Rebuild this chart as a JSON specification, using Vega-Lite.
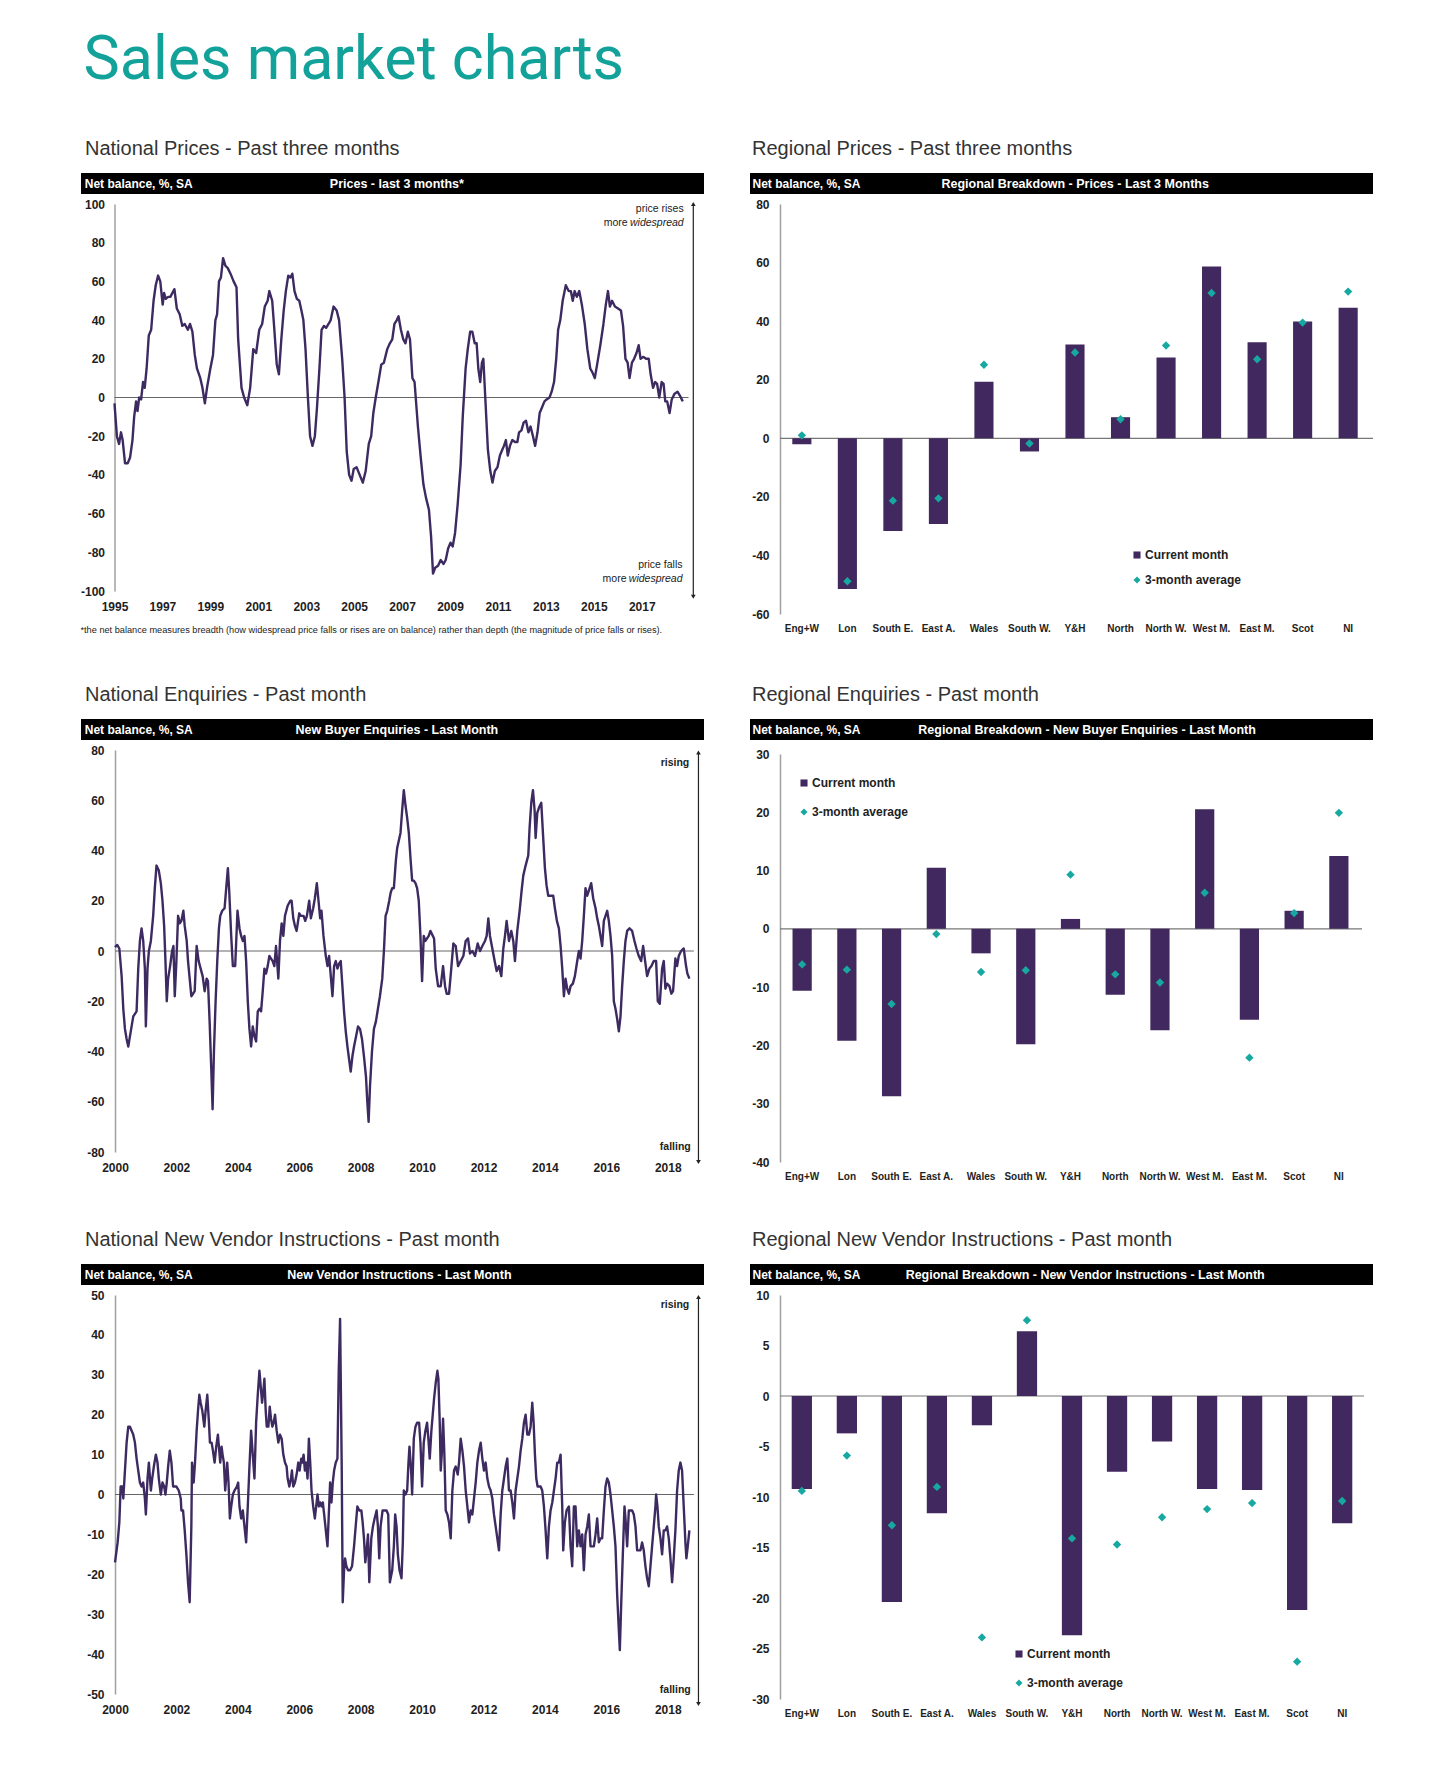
{
"$schema": "https://vega.github.io/schema/vega-lite/v6.json",
"background": "white",
"padding": {"left": 80, "top": 30, "right": 20, "bottom": 20},
"title": {"text": "Sales market charts", "anchor": "start", "font": "Roboto", "fontSize": 61, "fontWeight": "normal", "color": "#13a29a", "dx": 3, "offset": 47},
"config": {
 "view": {"stroke": null},
 "font": "Liberation Sans, Arial, sans-serif",
 "axis": {"labelFont": "Liberation Sans, Arial, sans-serif", "labelFontSize": 12, "labelFontWeight": "bold", "labelColor": "#1e1e1e", "grid": false, "ticks": false, "title": null, "domainColor": "#a0a0a0", "domainWidth": 1.5, "labelBound": false},
 "axisX": {"domain": false, "labelAngle": 0, "labelPadding": 10, "labelFlush": false},
 "axisY": {"labelPadding": 10},
 "text": {"font": "Liberation Sans, Arial, sans-serif"},
 "point": {"opacity": 1},
 "title": {"font": "Liberation Sans", "fontSize": 20, "fontWeight": "normal", "color": "#333333", "anchor": "start", "offset": 14, "dx": 4},
 "legend": {"labelFont": "Liberation Sans, Arial, sans-serif", "labelFontSize": 12, "labelFontWeight": "bold", "labelColor": "#222", "symbolSize": 50, "labelOffset": 2, "symbolStrokeWidth": 0}
},
"resolve": {"scale": {"color": "independent", "shape": "independent"}},
"spacing": 49,
"vconcat": [
{"resolve": {"scale": {"color": "independent", "shape": "independent"}},
 "hconcat": [
 {"vconcat": [
  {"width": 623, "height": 21, "view": {"fill": "#000000", "stroke": null},
   "title": {"text": "National Prices - Past three months"},
   "data": {"values": [{"left": "Net balance, %, SA", "center": "Prices - last 3 months*"}]},
   "layer": [
    {"mark": {"type": "text", "align": "left", "baseline": "middle", "color": "#ffffff", "fontSize": 12, "fontWeight": "bold"},
     "encoding": {"x": {"datum": 0.006, "type": "quantitative", "scale": {"domain": [0, 1]}, "axis": null}, "y": {"datum": 0.5, "type": "quantitative", "scale": {"domain": [0, 1]}, "axis": null}, "text": {"field": "left"}}},
    {"mark": {"type": "text", "align": "center", "baseline": "middle", "color": "#ffffff", "fontSize": 12.5, "fontWeight": "bold"},
     "encoding": {"x": {"datum": 0.507, "type": "quantitative"}, "y": {"datum": 0.5, "type": "quantitative"}, "text": {"field": "center"}}}
   ]},
  {"width": 623, "height": 387,
   "title": {"text": "*the net balance measures breadth (how widespread price falls or rises are on balance)  rather than depth (the magnitude of price falls or rises).", "orient": "bottom", "anchor": "start", "font": "Liberation Sans, Arial, sans-serif", "fontSize": 9.2, "color": "#222", "offset": 14, "dx": 0},
   "layer": [
    {"data": {"values": [{}]}, "mark": {"type": "rule", "color": "#666666", "strokeWidth": 1},
     "encoding": {"x": {"datum": 1995, "type": "quantitative"}, "x2": {"datum": 2018.95}, "y": {"datum": 0, "type": "quantitative"}}},
    {"data": {"values": [
{"t":1995.00,"v":-3},{"t":1995.10,"v":-20},{"t":1995.19,"v":-24},{"t":1995.27,"v":-18},{"t":1995.34,"v":-22},{"t":1995.44,"v":-34},{"t":1995.55,"v":-34},{"t":1995.65,"v":-31},{"t":1995.75,"v":-22},{"t":1995.82,"v":-10},{"t":1995.90,"v":-2},{"t":1995.96,"v":-7},{"t":1996.03,"v":0},{"t":1996.11,"v":-1},{"t":1996.19,"v":8},{"t":1996.26,"v":5},{"t":1996.34,"v":15},{"t":1996.43,"v":32},{"t":1996.53,"v":35},{"t":1996.63,"v":50},{"t":1996.72,"v":58},{"t":1996.82,"v":63},{"t":1996.91,"v":60},{"t":1997.01,"v":48},{"t":1997.07,"v":54},{"t":1997.14,"v":51},{"t":1997.24,"v":52},{"t":1997.33,"v":52},{"t":1997.50,"v":56},{"t":1997.60,"v":46},{"t":1997.72,"v":43},{"t":1997.83,"v":37},{"t":1997.93,"v":38},{"t":1998.06,"v":35},{"t":1998.15,"v":38},{"t":1998.25,"v":34},{"t":1998.35,"v":22},{"t":1998.44,"v":15},{"t":1998.58,"v":10},{"t":1998.67,"v":5},{"t":1998.77,"v":-3},{"t":1998.86,"v":5},{"t":1999.00,"v":15},{"t":1999.11,"v":22},{"t":1999.21,"v":40},{"t":1999.28,"v":43},{"t":1999.36,"v":60},{"t":1999.44,"v":62},{"t":1999.53,"v":72},{"t":1999.63,"v":68},{"t":1999.72,"v":67},{"t":1999.84,"v":64},{"t":1999.97,"v":60},{"t":2000.09,"v":57},{"t":2000.16,"v":30},{"t":2000.30,"v":5},{"t":2000.41,"v":0},{"t":2000.54,"v":-4},{"t":2000.66,"v":5},{"t":2000.79,"v":25},{"t":2000.91,"v":23},{"t":2001.04,"v":35},{"t":2001.16,"v":38},{"t":2001.27,"v":47},{"t":2001.39,"v":50},{"t":2001.46,"v":55},{"t":2001.58,"v":50},{"t":2001.67,"v":35},{"t":2001.77,"v":17},{"t":2001.86,"v":12},{"t":2001.96,"v":30},{"t":2002.06,"v":45},{"t":2002.15,"v":55},{"t":2002.25,"v":63},{"t":2002.34,"v":62},{"t":2002.42,"v":64},{"t":2002.51,"v":55},{"t":2002.61,"v":51},{"t":2002.71,"v":50},{"t":2002.80,"v":45},{"t":2002.88,"v":40},{"t":2002.97,"v":25},{"t":2003.07,"v":0},{"t":2003.16,"v":-20},{"t":2003.26,"v":-25},{"t":2003.36,"v":-20},{"t":2003.45,"v":-5},{"t":2003.55,"v":15},{"t":2003.64,"v":35},{"t":2003.74,"v":37},{"t":2003.83,"v":36},{"t":2003.93,"v":38},{"t":2004.02,"v":40},{"t":2004.14,"v":47},{"t":2004.27,"v":45},{"t":2004.37,"v":40},{"t":2004.50,"v":20},{"t":2004.60,"v":0},{"t":2004.69,"v":-28},{"t":2004.79,"v":-40},{"t":2004.89,"v":-43},{"t":2004.98,"v":-37},{"t":2005.10,"v":-36},{"t":2005.23,"v":-40},{"t":2005.36,"v":-44},{"t":2005.48,"v":-38},{"t":2005.61,"v":-24},{"t":2005.71,"v":-20},{"t":2005.80,"v":-8},{"t":2005.90,"v":0},{"t":2006.01,"v":8},{"t":2006.13,"v":17},{"t":2006.24,"v":18},{"t":2006.38,"v":25},{"t":2006.49,"v":28},{"t":2006.59,"v":30},{"t":2006.68,"v":38},{"t":2006.78,"v":40},{"t":2006.85,"v":42},{"t":2006.95,"v":35},{"t":2007.05,"v":30},{"t":2007.14,"v":28},{"t":2007.24,"v":34},{"t":2007.33,"v":30},{"t":2007.43,"v":10},{"t":2007.52,"v":8},{"t":2007.66,"v":-15},{"t":2007.77,"v":-30},{"t":2007.89,"v":-45},{"t":2008.00,"v":-52},{"t":2008.12,"v":-58},{"t":2008.21,"v":-72},{"t":2008.29,"v":-91},{"t":2008.38,"v":-88},{"t":2008.50,"v":-87},{"t":2008.61,"v":-84},{"t":2008.73,"v":-86},{"t":2008.82,"v":-84},{"t":2008.92,"v":-78},{"t":2009.02,"v":-75},{"t":2009.11,"v":-77},{"t":2009.21,"v":-70},{"t":2009.32,"v":-55},{"t":2009.44,"v":-35},{"t":2009.53,"v":-10},{"t":2009.65,"v":15},{"t":2009.74,"v":25},{"t":2009.84,"v":34},{"t":2009.93,"v":34},{"t":2010.03,"v":28},{"t":2010.11,"v":28},{"t":2010.18,"v":15},{"t":2010.26,"v":8},{"t":2010.33,"v":18},{"t":2010.39,"v":20},{"t":2010.47,"v":0},{"t":2010.58,"v":-27},{"t":2010.68,"v":-38},{"t":2010.77,"v":-44},{"t":2010.87,"v":-38},{"t":2010.98,"v":-36},{"t":2011.08,"v":-30},{"t":2011.18,"v":-27},{"t":2011.25,"v":-25},{"t":2011.33,"v":-22},{"t":2011.41,"v":-30},{"t":2011.50,"v":-25},{"t":2011.60,"v":-22},{"t":2011.71,"v":-23},{"t":2011.81,"v":-23},{"t":2011.88,"v":-18},{"t":2011.98,"v":-17},{"t":2012.07,"v":-13},{"t":2012.17,"v":-12},{"t":2012.27,"v":-18},{"t":2012.36,"v":-15},{"t":2012.46,"v":-20},{"t":2012.55,"v":-25},{"t":2012.65,"v":-18},{"t":2012.74,"v":-8},{"t":2012.84,"v":-5},{"t":2012.94,"v":-2},{"t":2013.03,"v":-1},{"t":2013.15,"v":0},{"t":2013.24,"v":3},{"t":2013.34,"v":8},{"t":2013.43,"v":20},{"t":2013.51,"v":35},{"t":2013.60,"v":40},{"t":2013.70,"v":50},{"t":2013.83,"v":58},{"t":2013.95,"v":55},{"t":2014.04,"v":55},{"t":2014.12,"v":50},{"t":2014.20,"v":55},{"t":2014.29,"v":52},{"t":2014.39,"v":55},{"t":2014.50,"v":48},{"t":2014.62,"v":38},{"t":2014.73,"v":25},{"t":2014.85,"v":15},{"t":2014.94,"v":13},{"t":2015.04,"v":10},{"t":2015.15,"v":18},{"t":2015.27,"v":27},{"t":2015.40,"v":38},{"t":2015.50,"v":48},{"t":2015.59,"v":55},{"t":2015.67,"v":47},{"t":2015.76,"v":50},{"t":2015.88,"v":47},{"t":2016.01,"v":46},{"t":2016.13,"v":45},{"t":2016.22,"v":37},{"t":2016.32,"v":20},{"t":2016.41,"v":18},{"t":2016.49,"v":10},{"t":2016.59,"v":18},{"t":2016.68,"v":20},{"t":2016.78,"v":23},{"t":2016.87,"v":27},{"t":2016.95,"v":20},{"t":2017.07,"v":21},{"t":2017.18,"v":20},{"t":2017.29,"v":20},{"t":2017.37,"v":12},{"t":2017.47,"v":5},{"t":2017.56,"v":8},{"t":2017.64,"v":7},{"t":2017.73,"v":0},{"t":2017.83,"v":8},{"t":2017.91,"v":7},{"t":2017.98,"v":-2},{"t":2018.06,"v":-2},{"t":2018.16,"v":-8},{"t":2018.25,"v":-1},{"t":2018.37,"v":2},{"t":2018.49,"v":3},{"t":2018.59,"v":1},{"t":2018.71,"v":-2}
     ]},
     "mark": {"type": "line", "color": "#3d2a61", "strokeWidth": 2.4, "strokeJoin": "round"},
     "encoding": {
      "x": {"field": "t", "type": "quantitative", "scale": {"domain": [1995, 2019.2], "range": [33.5, 613.5], "nice": false, "zero": false}, "axis": {"values": [1995, 1997, 1999, 2001, 2003, 2005, 2007, 2009, 2011, 2013, 2015, 2017], "format": "d", "labelOverlap": false, "tickCount": 30}},
      "y": {"field": "v", "type": "quantitative", "scale": {"domain": [-100, 100], "nice": false}, "axis": {"values": [-100, -80, -60, -40, -20, 0, 20, 40, 60, 80, 100], "tickCount": 30, "offset": -33.5, "labelPadding": 10, "labelOverlap": false, "labelExpr": "replace(datum.label, '−', '-')"}}
     }},
    {"data": {"values": [{}]}, "mark": {"type": "rule", "color": "#222222", "strokeWidth": 1.2},
     "encoding": {"x": {"datum": 2019.15, "type": "quantitative"}, "y": {"datum": 100, "type": "quantitative"}, "y2": {"datum": -103}}},
    {"data": {"values": [{}]}, "mark": {"type": "point", "shape": "triangle-up", "filled": true, "color": "#222222", "size": 22},
     "encoding": {"x": {"datum": 2019.15, "type": "quantitative"}, "y": {"datum": 100, "type": "quantitative"}}},
    {"data": {"values": [{}]}, "mark": {"type": "point", "shape": "triangle-down", "filled": true, "color": "#222222", "size": 22},
     "encoding": {"x": {"datum": 2019.15, "type": "quantitative"}, "y": {"datum": -103, "type": "quantitative"}}},
    {"data": {"values": [{}]}, "mark": {"type": "text", "align": "right", "baseline": "alphabetic", "fontSize": 10.5, "color": "#222222"},
     "encoding": {"x": {"datum": 2018.75, "type": "quantitative"}, "y": {"datum": 96, "type": "quantitative"}, "text": {"value": "price rises"}}},
    {"data": {"values": [{}]}, "mark": {"type": "text", "align": "right", "baseline": "alphabetic", "fontSize": 10.5, "fontStyle": "italic", "color": "#222222"},
     "encoding": {"x": {"datum": 2018.75, "type": "quantitative"}, "y": {"datum": 88.5, "type": "quantitative"}, "text": {"value": "widespread"}}},
    {"data": {"values": [{}]}, "mark": {"type": "text", "align": "right", "baseline": "alphabetic", "fontSize": 10.5, "color": "#222222", "dx": -56},
     "encoding": {"x": {"datum": 2018.75, "type": "quantitative"}, "y": {"datum": 88.5, "type": "quantitative"}, "text": {"value": "more"}}},
    {"data": {"values": [{}]}, "mark": {"type": "text", "align": "right", "baseline": "alphabetic", "fontSize": 10.5, "color": "#222222"},
     "encoding": {"x": {"datum": 2018.7, "type": "quantitative"}, "y": {"datum": -88, "type": "quantitative"}, "text": {"value": "price falls"}}},
    {"data": {"values": [{}]}, "mark": {"type": "text", "align": "right", "baseline": "alphabetic", "fontSize": 10.5, "fontStyle": "italic", "color": "#222222"},
     "encoding": {"x": {"datum": 2018.7, "type": "quantitative"}, "y": {"datum": -95.5, "type": "quantitative"}, "text": {"value": "widespread"}}},
    {"data": {"values": [{}]}, "mark": {"type": "text", "align": "right", "baseline": "alphabetic", "fontSize": 10.5, "color": "#222222", "dx": -56},
     "encoding": {"x": {"datum": 2018.7, "type": "quantitative"}, "y": {"datum": -95.5, "type": "quantitative"}, "text": {"value": "more"}}}
   ]}
 ], "spacing": 4},
 {"resolve": {"scale": {"color": "independent", "shape": "independent"}},
  "vconcat": [
  {"width": 623, "height": 21, "view": {"fill": "#000000", "stroke": null},
   "title": {"text": "Regional Prices - Past three months", "dx": 2},
   "data": {"values": [{"left": "Net balance, %, SA", "center": "Regional Breakdown - Prices - Last 3 Months"}]},
   "layer": [
    {"mark": {"type": "text", "align": "left", "baseline": "middle", "color": "#ffffff", "fontSize": 12, "fontWeight": "bold"},
     "encoding": {"x": {"datum": 0.004, "type": "quantitative", "scale": {"domain": [0, 1]}, "axis": null}, "y": {"datum": 0.5, "type": "quantitative", "scale": {"domain": [0, 1]}, "axis": null}, "text": {"field": "left"}}},
    {"mark": {"type": "text", "align": "center", "baseline": "middle", "color": "#ffffff", "fontSize": 12.5, "fontWeight": "bold"},
     "encoding": {"x": {"datum": 0.522, "type": "quantitative"}, "y": {"datum": 0.5, "type": "quantitative"}, "text": {"field": "center"}}}
   ]},
  {"width": 623, "height": 410,
   "resolve": {"scale": {"x": "independent"}},
   "layer": [
    {"data": {"values": [{}]}, "mark": {"type": "rule", "color": "#777777", "strokeWidth": 1.2},
     "encoding": {"x": {"datum": 0, "type": "quantitative", "scale": {"domain": [0, 1], "range": [30, 623]}, "axis": null}, "x2": {"datum": 1}, "y": {"datum": 0, "type": "quantitative"}}},
    {"data": {"values": [
      {"region": "Eng+W", "Current month": -2, "3-month average": 1},
      {"region": "Lon", "Current month": -51.5, "3-month average": -48.8},
      {"region": "South E.", "Current month": -31.7, "3-month average": -21.3},
      {"region": "East A.", "Current month": -29.3, "3-month average": -20.5},
      {"region": "Wales", "Current month": 19.3, "3-month average": 25.1},
      {"region": "South W.", "Current month": -4.5, "3-month average": -1.8},
      {"region": "Y&H", "Current month": 32, "3-month average": 29.3},
      {"region": "North", "Current month": 7.2, "3-month average": 6.5},
      {"region": "North W.", "Current month": 27.6, "3-month average": 31.7},
      {"region": "West M.", "Current month": 58.7, "3-month average": 49.6},
      {"region": "East M.", "Current month": 32.8, "3-month average": 27},
      {"region": "Scot", "Current month": 39.9, "3-month average": 39.5},
      {"region": "NI", "Current month": 44.6, "3-month average": 50.1}
     ]},
     "transform": [{"fold": ["Current month", "3-month average"], "as": ["series", "value"]}],
     "layer": [
      {"transform": [{"filter": "datum.series === 'Current month'"}],
       "mark": {"type": "bar"},
       "encoding": {
        "x": {"field": "region", "type": "nominal", "sort": null, "scale": {"range": [30, 620], "paddingInner": 0.58, "paddingOuter": 0.27}, "axis": {"labelFontSize": 10, "labelPadding": 9, "labelOverlap": false}},
        "y": {"field": "value", "type": "quantitative", "scale": {"domain": [-60, 80], "nice": false}, "axis": {"values": [-60, -40, -20, 0, 20, 40, 60, 80], "tickCount": 30, "offset": -30, "labelPadding": 11, "labelOverlap": false, "labelExpr": "replace(datum.label, '−', '-')"}},
        "color": {"field": "series", "type": "nominal", "scale": {"domain": ["Current month", "3-month average"], "range": ["#41295f", "#17a9a1"]}, "legend": {"orient": "none", "legendX": 381, "legendY": 345, "title": null, "rowPadding": 13}}
       }},
      {"transform": [{"filter": "datum.series === '3-month average'"}],
       "mark": {"type": "point", "filled": true, "size": 70},
       "encoding": {
        "x": {"field": "region", "type": "nominal", "sort": null},
        "y": {"field": "value", "type": "quantitative"},
        "color": {"field": "series", "type": "nominal"},
        "shape": {"field": "series", "type": "nominal", "scale": {"domain": ["Current month", "3-month average"], "range": ["square", "diamond"]}, "legend": {"orient": "none", "legendX": 381, "legendY": 345, "title": null, "rowPadding": 13}}
       }}
     ]}
   ]}
 ], "spacing": 4}
], "spacing": 46},
{"resolve": {"scale": {"color": "independent", "shape": "independent"}},
 "hconcat": [
 {"vconcat": [
  {"width": 623, "height": 21, "view": {"fill": "#000000", "stroke": null},
   "title": {"text": "National Enquiries - Past month"},
   "data": {"values": [{"left": "Net balance, %, SA", "center": "New Buyer Enquiries - Last Month"}]},
   "layer": [
    {"mark": {"type": "text", "align": "left", "baseline": "middle", "color": "#ffffff", "fontSize": 12, "fontWeight": "bold"},
     "encoding": {"x": {"datum": 0.006, "type": "quantitative", "scale": {"domain": [0, 1]}, "axis": null}, "y": {"datum": 0.5, "type": "quantitative", "scale": {"domain": [0, 1]}, "axis": null}, "text": {"field": "left"}}},
    {"mark": {"type": "text", "align": "center", "baseline": "middle", "color": "#ffffff", "fontSize": 12.5, "fontWeight": "bold"},
     "encoding": {"x": {"datum": 0.507, "type": "quantitative"}, "y": {"datum": 0.5, "type": "quantitative"}, "text": {"field": "center"}}}
   ]},
  {"width": 623, "height": 402,
   "layer": [
    {"data": {"values": [{}]}, "mark": {"type": "rule", "color": "#666666", "strokeWidth": 1},
     "encoding": {"x": {"datum": 2000, "type": "quantitative"}, "x2": {"datum": 2018.85}, "y": {"datum": 0, "type": "quantitative"}}},
    {"data": {"values": [
{"t":2000.000,"v":1.5},{"t":2000.076,"v":2.4},{"t":2000.141,"v":1},{"t":2000.216,"v":-10},{"t":2000.270,"v":-23},{"t":2000.324,"v":-31},{"t":2000.378,"v":-35},{"t":2000.432,"v":-38},{"t":2000.486,"v":-34},{"t":2000.541,"v":-30},{"t":2000.595,"v":-26},{"t":2000.649,"v":-25},{"t":2000.703,"v":-24},{"t":2000.757,"v":-7},{"t":2000.811,"v":4},{"t":2000.865,"v":9},{"t":2000.919,"v":4},{"t":2000.973,"v":-7},{"t":2001.005,"v":-30},{"t":2001.059,"v":-7},{"t":2001.103,"v":0},{"t":2001.168,"v":4},{"t":2001.243,"v":14},{"t":2001.297,"v":25},{"t":2001.351,"v":34},{"t":2001.427,"v":32},{"t":2001.492,"v":27},{"t":2001.546,"v":20},{"t":2001.600,"v":10},{"t":2001.643,"v":-4},{"t":2001.686,"v":-20},{"t":2001.730,"v":-11},{"t":2001.795,"v":-6},{"t":2001.859,"v":0},{"t":2001.903,"v":2},{"t":2001.946,"v":-18},{"t":2002.000,"v":-4},{"t":2002.054,"v":14},{"t":2002.108,"v":11},{"t":2002.162,"v":12},{"t":2002.227,"v":16},{"t":2002.270,"v":10},{"t":2002.335,"v":4},{"t":2002.378,"v":-4},{"t":2002.432,"v":-11},{"t":2002.486,"v":-18},{"t":2002.541,"v":-17},{"t":2002.595,"v":-16},{"t":2002.659,"v":2},{"t":2002.724,"v":-4},{"t":2002.789,"v":-7},{"t":2002.854,"v":-10},{"t":2002.919,"v":-16},{"t":2002.984,"v":-11},{"t":2003.027,"v":-12},{"t":2003.081,"v":-28},{"t":2003.135,"v":-47},{"t":2003.178,"v":-63},{"t":2003.222,"v":-40},{"t":2003.276,"v":-20},{"t":2003.330,"v":-4},{"t":2003.384,"v":9},{"t":2003.427,"v":14},{"t":2003.492,"v":16},{"t":2003.568,"v":17},{"t":2003.622,"v":25},{"t":2003.676,"v":33},{"t":2003.719,"v":24},{"t":2003.784,"v":6},{"t":2003.838,"v":-6},{"t":2003.914,"v":-6},{"t":2003.989,"v":16},{"t":2004.054,"v":9},{"t":2004.108,"v":6},{"t":2004.162,"v":4},{"t":2004.216,"v":6},{"t":2004.270,"v":-4},{"t":2004.324,"v":-20},{"t":2004.378,"v":-31},{"t":2004.432,"v":-38},{"t":2004.486,"v":-30},{"t":2004.541,"v":-34},{"t":2004.595,"v":-36},{"t":2004.649,"v":-24},{"t":2004.703,"v":-23},{"t":2004.757,"v":-24},{"t":2004.811,"v":-16},{"t":2004.865,"v":-7},{"t":2004.919,"v":-9},{"t":2004.973,"v":-6},{"t":2005.027,"v":-2},{"t":2005.081,"v":-3},{"t":2005.135,"v":-4},{"t":2005.189,"v":-6},{"t":2005.243,"v":2},{"t":2005.319,"v":-11},{"t":2005.373,"v":4},{"t":2005.427,"v":11},{"t":2005.481,"v":6},{"t":2005.535,"v":14},{"t":2005.622,"v":18},{"t":2005.708,"v":20},{"t":2005.751,"v":20},{"t":2005.805,"v":13},{"t":2005.859,"v":10},{"t":2005.914,"v":8},{"t":2006.000,"v":15},{"t":2006.054,"v":14},{"t":2006.141,"v":14},{"t":2006.195,"v":12},{"t":2006.249,"v":14},{"t":2006.324,"v":20},{"t":2006.378,"v":13},{"t":2006.454,"v":17},{"t":2006.508,"v":21},{"t":2006.573,"v":27},{"t":2006.627,"v":20},{"t":2006.681,"v":13},{"t":2006.724,"v":16},{"t":2006.789,"v":6},{"t":2006.865,"v":-2},{"t":2006.919,"v":-6},{"t":2006.973,"v":-2},{"t":2007.027,"v":-10},{"t":2007.081,"v":-18},{"t":2007.135,"v":-6},{"t":2007.189,"v":-4},{"t":2007.243,"v":-7},{"t":2007.297,"v":-5},{"t":2007.351,"v":-4},{"t":2007.405,"v":-14},{"t":2007.459,"v":-24},{"t":2007.514,"v":-32},{"t":2007.568,"v":-38},{"t":2007.622,"v":-43},{"t":2007.676,"v":-48},{"t":2007.730,"v":-42},{"t":2007.784,"v":-38},{"t":2007.849,"v":-34},{"t":2007.914,"v":-30},{"t":2007.978,"v":-31},{"t":2008.043,"v":-35},{"t":2008.108,"v":-42},{"t":2008.173,"v":-50},{"t":2008.216,"v":-60},{"t":2008.259,"v":-68},{"t":2008.303,"v":-54},{"t":2008.368,"v":-40},{"t":2008.432,"v":-31},{"t":2008.497,"v":-28},{"t":2008.562,"v":-23},{"t":2008.627,"v":-18},{"t":2008.703,"v":-11},{"t":2008.757,"v":0},{"t":2008.811,"v":14},{"t":2008.865,"v":16},{"t":2008.930,"v":20},{"t":2008.973,"v":23},{"t":2009.027,"v":25},{"t":2009.081,"v":25},{"t":2009.146,"v":36},{"t":2009.189,"v":41},{"t":2009.243,"v":44},{"t":2009.297,"v":47},{"t":2009.351,"v":56},{"t":2009.405,"v":64},{"t":2009.459,"v":58},{"t":2009.514,"v":53},{"t":2009.568,"v":47},{"t":2009.622,"v":37},{"t":2009.676,"v":28},{"t":2009.730,"v":28},{"t":2009.784,"v":27},{"t":2009.838,"v":25},{"t":2009.892,"v":20},{"t":2009.946,"v":6},{"t":2010.000,"v":-12},{"t":2010.054,"v":6},{"t":2010.108,"v":4},{"t":2010.162,"v":5},{"t":2010.216,"v":6},{"t":2010.270,"v":8},{"t":2010.390,"v":5},{"t":2010.444,"v":-7},{"t":2010.520,"v":-14},{"t":2010.607,"v":-14},{"t":2010.683,"v":-6},{"t":2010.748,"v":-14},{"t":2010.802,"v":-17},{"t":2010.878,"v":-17},{"t":2010.943,"v":-8},{"t":2011.019,"v":3},{"t":2011.095,"v":2},{"t":2011.171,"v":-6},{"t":2011.257,"v":-4},{"t":2011.344,"v":-2},{"t":2011.420,"v":4},{"t":2011.496,"v":5},{"t":2011.561,"v":-1},{"t":2011.637,"v":0},{"t":2011.724,"v":-2},{"t":2011.810,"v":3},{"t":2011.886,"v":0},{"t":2011.962,"v":2},{"t":2012.049,"v":4},{"t":2012.103,"v":6},{"t":2012.157,"v":13},{"t":2012.211,"v":6},{"t":2012.287,"v":1},{"t":2012.363,"v":-4},{"t":2012.428,"v":-8},{"t":2012.504,"v":-6},{"t":2012.580,"v":-10},{"t":2012.645,"v":1},{"t":2012.699,"v":6},{"t":2012.753,"v":12},{"t":2012.829,"v":4},{"t":2012.905,"v":8},{"t":2012.970,"v":4},{"t":2013.024,"v":-4},{"t":2013.100,"v":8},{"t":2013.176,"v":16},{"t":2013.241,"v":24},{"t":2013.295,"v":30},{"t":2013.371,"v":34},{"t":2013.458,"v":38},{"t":2013.501,"v":49},{"t":2013.556,"v":59},{"t":2013.610,"v":64},{"t":2013.664,"v":56},{"t":2013.697,"v":45},{"t":2013.751,"v":55},{"t":2013.805,"v":57},{"t":2013.881,"v":59},{"t":2013.935,"v":47},{"t":2014.000,"v":33},{"t":2014.054,"v":26},{"t":2014.108,"v":22},{"t":2014.184,"v":22},{"t":2014.271,"v":22},{"t":2014.325,"v":17},{"t":2014.390,"v":12},{"t":2014.455,"v":9},{"t":2014.510,"v":2},{"t":2014.564,"v":-7},{"t":2014.618,"v":-18},{"t":2014.672,"v":-11},{"t":2014.726,"v":-15},{"t":2014.781,"v":-17},{"t":2014.835,"v":-14},{"t":2014.910,"v":-13},{"t":2014.976,"v":-10},{"t":2015.052,"v":-4},{"t":2015.106,"v":0},{"t":2015.160,"v":-3},{"t":2015.214,"v":4},{"t":2015.268,"v":14},{"t":2015.322,"v":25},{"t":2015.377,"v":22},{"t":2015.431,"v":24},{"t":2015.507,"v":27},{"t":2015.572,"v":21},{"t":2015.648,"v":17},{"t":2015.702,"v":13},{"t":2015.756,"v":10},{"t":2015.810,"v":6},{"t":2015.865,"v":2},{"t":2015.919,"v":12},{"t":2015.973,"v":14},{"t":2016.027,"v":16},{"t":2016.081,"v":12},{"t":2016.136,"v":6},{"t":2016.190,"v":-2},{"t":2016.244,"v":-20},{"t":2016.298,"v":-23},{"t":2016.352,"v":-27},{"t":2016.407,"v":-32},{"t":2016.461,"v":-26},{"t":2016.515,"v":-14},{"t":2016.569,"v":-4},{"t":2016.623,"v":4},{"t":2016.678,"v":8},{"t":2016.754,"v":9},{"t":2016.840,"v":8},{"t":2016.916,"v":4},{"t":2016.981,"v":1},{"t":2017.057,"v":-2},{"t":2017.133,"v":-4},{"t":2017.198,"v":2},{"t":2017.252,"v":-3},{"t":2017.328,"v":-10},{"t":2017.404,"v":-7},{"t":2017.469,"v":-6},{"t":2017.545,"v":-4},{"t":2017.621,"v":-4},{"t":2017.675,"v":-20},{"t":2017.740,"v":-21},{"t":2017.816,"v":-7},{"t":2017.870,"v":-4},{"t":2017.924,"v":-15},{"t":2017.978,"v":-13},{"t":2018.054,"v":-14},{"t":2018.119,"v":-17},{"t":2018.173,"v":-16},{"t":2018.249,"v":-3},{"t":2018.303,"v":-6},{"t":2018.358,"v":-2},{"t":2018.434,"v":0},{"t":2018.520,"v":1},{"t":2018.596,"v":-6},{"t":2018.640,"v":-9},{"t":2018.705,"v":-11}
     ]},
     "mark": {"type": "line", "color": "#3d2a61", "strokeWidth": 2.4, "strokeJoin": "round"},
     "encoding": {
      "x": {"field": "t", "type": "quantitative", "scale": {"domain": [2000, 2019.05], "range": [34, 619], "nice": false, "zero": false}, "axis": {"values": [2000, 2002, 2004, 2006, 2008, 2010, 2012, 2014, 2016, 2018], "format": "d", "labelOverlap": false, "tickCount": 30}},
      "y": {"field": "v", "type": "quantitative", "scale": {"domain": [-80, 80], "nice": false}, "axis": {"values": [-80, -60, -40, -20, 0, 20, 40, 60, 80], "tickCount": 30, "offset": -34, "labelPadding": 11, "labelOverlap": false, "labelExpr": "replace(datum.label, '−', '-')"}}
     }},
    {"data": {"values": [{}]}, "mark": {"type": "rule", "color": "#222222", "strokeWidth": 1.2},
     "encoding": {"x": {"datum": 2019.0, "type": "quantitative"}, "y": {"datum": 79, "type": "quantitative"}, "y2": {"datum": -84}}},
    {"data": {"values": [{}]}, "mark": {"type": "point", "shape": "triangle-up", "filled": true, "color": "#222222", "size": 22},
     "encoding": {"x": {"datum": 2019.0, "type": "quantitative"}, "y": {"datum": 79, "type": "quantitative"}}},
    {"data": {"values": [{}]}, "mark": {"type": "point", "shape": "triangle-down", "filled": true, "color": "#222222", "size": 22},
     "encoding": {"x": {"datum": 2019.0, "type": "quantitative"}, "y": {"datum": -84, "type": "quantitative"}}},
    {"data": {"values": [{}]}, "mark": {"type": "text", "align": "right", "baseline": "middle", "fontSize": 10.5, "fontWeight": "bold", "color": "#222222"},
     "encoding": {"x": {"datum": 2018.7, "type": "quantitative"}, "y": {"datum": 75, "type": "quantitative"}, "text": {"value": "rising"}}},
    {"data": {"values": [{}]}, "mark": {"type": "text", "align": "right", "baseline": "middle", "fontSize": 10.5, "fontWeight": "bold", "color": "#222222"},
     "encoding": {"x": {"datum": 2018.75, "type": "quantitative"}, "y": {"datum": -78, "type": "quantitative"}, "text": {"value": "falling"}}}
   ]}
 ], "spacing": 4},
 {"resolve": {"scale": {"color": "independent", "shape": "independent"}},
  "vconcat": [
  {"width": 623, "height": 21, "view": {"fill": "#000000", "stroke": null},
   "title": {"text": "Regional Enquiries - Past month", "dx": 2},
   "data": {"values": [{"left": "Net balance, %, SA", "center": "Regional Breakdown - New Buyer Enquiries - Last Month"}]},
   "layer": [
    {"mark": {"type": "text", "align": "left", "baseline": "middle", "color": "#ffffff", "fontSize": 12, "fontWeight": "bold"},
     "encoding": {"x": {"datum": 0.004, "type": "quantitative", "scale": {"domain": [0, 1]}, "axis": null}, "y": {"datum": 0.5, "type": "quantitative", "scale": {"domain": [0, 1]}, "axis": null}, "text": {"field": "left"}}},
    {"mark": {"type": "text", "align": "center", "baseline": "middle", "color": "#ffffff", "fontSize": 12.5, "fontWeight": "bold"},
     "encoding": {"x": {"datum": 0.541, "type": "quantitative"}, "y": {"datum": 0.5, "type": "quantitative"}, "text": {"field": "center"}}}
   ]},
  {"width": 623, "height": 408,
   "resolve": {"scale": {"x": "independent"}},
   "layer": [
    {"data": {"values": [{}]}, "mark": {"type": "rule", "color": "#777777", "strokeWidth": 1.2},
     "encoding": {"x": {"datum": 0, "type": "quantitative", "scale": {"domain": [0, 1], "range": [30, 612]}, "axis": null}, "x2": {"datum": 1}, "y": {"datum": 0, "type": "quantitative"}}},
    {"data": {"values": [
      {"region": "Eng+W", "Current month": -10.6, "3-month average": -6.1},
      {"region": "Lon", "Current month": -19.2, "3-month average": -7.0},
      {"region": "South E.", "Current month": -28.7, "3-month average": -12.9},
      {"region": "East A.", "Current month": 10.5, "3-month average": -0.9},
      {"region": "Wales", "Current month": -4.2, "3-month average": -7.4},
      {"region": "South W.", "Current month": -19.8, "3-month average": -7.1},
      {"region": "Y&H", "Current month": 1.7, "3-month average": 9.3},
      {"region": "North", "Current month": -11.3, "3-month average": -7.8},
      {"region": "North W.", "Current month": -17.4, "3-month average": -9.2},
      {"region": "West M.", "Current month": 20.5, "3-month average": 6.2},
      {"region": "East M.", "Current month": -15.6, "3-month average": -22.1},
      {"region": "Scot", "Current month": 3.1, "3-month average": 2.7},
      {"region": "NI", "Current month": 12.5, "3-month average": 19.9}
     ]},
     "transform": [{"fold": ["Current month", "3-month average"], "as": ["series", "value"]}],
     "layer": [
      {"transform": [{"filter": "datum.series === 'Current month'"}],
       "mark": {"type": "bar"},
       "encoding": {
        "x": {"field": "region", "type": "nominal", "sort": null, "scale": {"range": [30, 611], "paddingInner": 0.57, "paddingOuter": 0.28}, "axis": {"labelFontSize": 10, "labelPadding": 9, "labelOverlap": false}},
        "y": {"field": "value", "type": "quantitative", "scale": {"domain": [-40, 30], "nice": false}, "axis": {"values": [-40, -30, -20, -10, 0, 10, 20, 30], "tickCount": 30, "offset": -30, "labelPadding": 11, "labelOverlap": false, "labelExpr": "replace(datum.label, '−', '-')"}},
        "color": {"field": "series", "type": "nominal", "scale": {"domain": ["Current month", "3-month average"], "range": ["#41295f", "#17a9a1"]}, "legend": {"orient": "none", "legendX": 48, "legendY": 23, "title": null, "rowPadding": 17}}
       }},
      {"transform": [{"filter": "datum.series === '3-month average'"}],
       "mark": {"type": "point", "filled": true, "size": 70},
       "encoding": {
        "x": {"field": "region", "type": "nominal", "sort": null},
        "y": {"field": "value", "type": "quantitative"},
        "color": {"field": "series", "type": "nominal"},
        "shape": {"field": "series", "type": "nominal", "scale": {"domain": ["Current month", "3-month average"], "range": ["square", "diamond"]}, "legend": {"orient": "none", "legendX": 48, "legendY": 23, "title": null, "rowPadding": 17}}
       }}
     ]}
   ]}
 ], "spacing": 8}
], "spacing": 46},
{"resolve": {"scale": {"color": "independent", "shape": "independent"}},
 "hconcat": [
 {"vconcat": [
  {"width": 623, "height": 21, "view": {"fill": "#000000", "stroke": null},
   "title": {"text": "National New Vendor Instructions - Past month"},
   "data": {"values": [{"left": "Net balance, %, SA", "center": "New Vendor Instructions - Last Month"}]},
   "layer": [
    {"mark": {"type": "text", "align": "left", "baseline": "middle", "color": "#ffffff", "fontSize": 12, "fontWeight": "bold"},
     "encoding": {"x": {"datum": 0.006, "type": "quantitative", "scale": {"domain": [0, 1]}, "axis": null}, "y": {"datum": 0.5, "type": "quantitative", "scale": {"domain": [0, 1]}, "axis": null}, "text": {"field": "left"}}},
    {"mark": {"type": "text", "align": "center", "baseline": "middle", "color": "#ffffff", "fontSize": 12.5, "fontWeight": "bold"},
     "encoding": {"x": {"datum": 0.511, "type": "quantitative"}, "y": {"datum": 0.5, "type": "quantitative"}, "text": {"field": "center"}}}
   ]},
  {"width": 623, "height": 399,
   "layer": [
    {"data": {"values": [{}]}, "mark": {"type": "rule", "color": "#666666", "strokeWidth": 1},
     "encoding": {"x": {"datum": 2000, "type": "quantitative"}, "x2": {"datum": 2018.85}, "y": {"datum": 0, "type": "quantitative"}}},
    {"data": {"values": [
{"t":2000.000,"v":-17},{"t":2000.086,"v":-12},{"t":2000.141,"v":-7},{"t":2000.184,"v":2},{"t":2000.238,"v":2},{"t":2000.270,"v":-1},{"t":2000.324,"v":6},{"t":2000.378,"v":13},{"t":2000.432,"v":17},{"t":2000.486,"v":17},{"t":2000.541,"v":16},{"t":2000.595,"v":15},{"t":2000.649,"v":13},{"t":2000.703,"v":9},{"t":2000.757,"v":6},{"t":2000.811,"v":3},{"t":2000.865,"v":2},{"t":2000.919,"v":3},{"t":2000.973,"v":-1},{"t":2001.005,"v":-5},{"t":2001.059,"v":4},{"t":2001.103,"v":8},{"t":2001.168,"v":1},{"t":2001.211,"v":4},{"t":2001.265,"v":7},{"t":2001.330,"v":10},{"t":2001.384,"v":8},{"t":2001.427,"v":4},{"t":2001.492,"v":0},{"t":2001.546,"v":3},{"t":2001.600,"v":2},{"t":2001.643,"v":0},{"t":2001.686,"v":3},{"t":2001.730,"v":7},{"t":2001.784,"v":11},{"t":2001.838,"v":8},{"t":2001.892,"v":2},{"t":2001.946,"v":2},{"t":2002.000,"v":2},{"t":2002.076,"v":1},{"t":2002.141,"v":-1},{"t":2002.162,"v":-4},{"t":2002.216,"v":-4},{"t":2002.270,"v":-9},{"t":2002.324,"v":-15},{"t":2002.378,"v":-22},{"t":2002.432,"v":-27},{"t":2002.486,"v":-8},{"t":2002.508,"v":8},{"t":2002.562,"v":3},{"t":2002.605,"v":8},{"t":2002.659,"v":16},{"t":2002.703,"v":21},{"t":2002.746,"v":25},{"t":2002.789,"v":23},{"t":2002.843,"v":21},{"t":2002.908,"v":17},{"t":2002.951,"v":21},{"t":2003.005,"v":25},{"t":2003.059,"v":18},{"t":2003.092,"v":13},{"t":2003.146,"v":13},{"t":2003.189,"v":11},{"t":2003.243,"v":8},{"t":2003.297,"v":12},{"t":2003.351,"v":15},{"t":2003.395,"v":11},{"t":2003.427,"v":8},{"t":2003.470,"v":12},{"t":2003.503,"v":10},{"t":2003.546,"v":8},{"t":2003.589,"v":1},{"t":2003.654,"v":8},{"t":2003.697,"v":3},{"t":2003.741,"v":-6},{"t":2003.784,"v":-3},{"t":2003.838,"v":0},{"t":2003.892,"v":1},{"t":2003.968,"v":2},{"t":2004.011,"v":3},{"t":2004.054,"v":-3},{"t":2004.108,"v":-6},{"t":2004.162,"v":-4},{"t":2004.216,"v":-8},{"t":2004.270,"v":-12},{"t":2004.324,"v":-3},{"t":2004.378,"v":7},{"t":2004.432,"v":16},{"t":2004.486,"v":10},{"t":2004.541,"v":4},{"t":2004.595,"v":18},{"t":2004.649,"v":25},{"t":2004.703,"v":31},{"t":2004.757,"v":26},{"t":2004.789,"v":23},{"t":2004.832,"v":26},{"t":2004.865,"v":29},{"t":2004.908,"v":21},{"t":2004.941,"v":17},{"t":2004.995,"v":17},{"t":2005.038,"v":22},{"t":2005.081,"v":19},{"t":2005.124,"v":17},{"t":2005.168,"v":18},{"t":2005.211,"v":20},{"t":2005.265,"v":16},{"t":2005.319,"v":13},{"t":2005.373,"v":15},{"t":2005.427,"v":14},{"t":2005.481,"v":10},{"t":2005.535,"v":8},{"t":2005.589,"v":7},{"t":2005.622,"v":4},{"t":2005.676,"v":2},{"t":2005.730,"v":4},{"t":2005.762,"v":6},{"t":2005.805,"v":2},{"t":2005.859,"v":3},{"t":2005.914,"v":5},{"t":2005.968,"v":8},{"t":2006.011,"v":6},{"t":2006.065,"v":9},{"t":2006.097,"v":8},{"t":2006.141,"v":10},{"t":2006.184,"v":6},{"t":2006.227,"v":8},{"t":2006.270,"v":4},{"t":2006.314,"v":14},{"t":2006.357,"v":8},{"t":2006.400,"v":1},{"t":2006.454,"v":-3},{"t":2006.508,"v":-6},{"t":2006.551,"v":-3},{"t":2006.595,"v":0},{"t":2006.638,"v":-3},{"t":2006.681,"v":-2},{"t":2006.724,"v":-3},{"t":2006.768,"v":-2},{"t":2006.811,"v":-5},{"t":2006.865,"v":-9},{"t":2006.919,"v":-13},{"t":2006.973,"v":-3},{"t":2007.005,"v":3},{"t":2007.049,"v":-2},{"t":2007.092,"v":3},{"t":2007.135,"v":6},{"t":2007.189,"v":8},{"t":2007.243,"v":9},{"t":2007.286,"v":31},{"t":2007.330,"v":44},{"t":2007.384,"v":6},{"t":2007.416,"v":-27},{"t":2007.459,"v":-19},{"t":2007.492,"v":-16},{"t":2007.535,"v":-18},{"t":2007.589,"v":-19},{"t":2007.654,"v":-19},{"t":2007.719,"v":-18},{"t":2007.784,"v":-13},{"t":2007.838,"v":-8},{"t":2007.892,"v":-3},{"t":2007.957,"v":-4},{"t":2008.022,"v":-4},{"t":2008.065,"v":-7},{"t":2008.108,"v":-11},{"t":2008.151,"v":-17},{"t":2008.195,"v":-14},{"t":2008.238,"v":-10},{"t":2008.281,"v":-22},{"t":2008.346,"v":-11},{"t":2008.400,"v":-8},{"t":2008.454,"v":-6},{"t":2008.519,"v":-4},{"t":2008.562,"v":-8},{"t":2008.605,"v":-16},{"t":2008.649,"v":-8},{"t":2008.714,"v":-4},{"t":2008.778,"v":-4},{"t":2008.843,"v":-4},{"t":2008.897,"v":-5},{"t":2008.951,"v":-22},{"t":2009.027,"v":-19},{"t":2009.081,"v":-13},{"t":2009.124,"v":-5},{"t":2009.168,"v":-8},{"t":2009.211,"v":-15},{"t":2009.265,"v":-19},{"t":2009.330,"v":-21},{"t":2009.373,"v":-12},{"t":2009.405,"v":1},{"t":2009.459,"v":0},{"t":2009.514,"v":1},{"t":2009.557,"v":8},{"t":2009.589,"v":12},{"t":2009.643,"v":6},{"t":2009.676,"v":0},{"t":2009.730,"v":14},{"t":2009.784,"v":17},{"t":2009.838,"v":18},{"t":2009.903,"v":18},{"t":2009.946,"v":13},{"t":2010.000,"v":2},{"t":2010.054,"v":13},{"t":2010.108,"v":16},{"t":2010.162,"v":18},{"t":2010.205,"v":14},{"t":2010.249,"v":9},{"t":2010.303,"v":16},{"t":2010.390,"v":24},{"t":2010.444,"v":28},{"t":2010.499,"v":31},{"t":2010.531,"v":29},{"t":2010.575,"v":18},{"t":2010.607,"v":6},{"t":2010.640,"v":10},{"t":2010.683,"v":19},{"t":2010.726,"v":10},{"t":2010.770,"v":-4},{"t":2010.824,"v":-5},{"t":2010.878,"v":-7},{"t":2010.932,"v":-11},{"t":2010.986,"v":1},{"t":2011.041,"v":6},{"t":2011.095,"v":7},{"t":2011.160,"v":5},{"t":2011.203,"v":8},{"t":2011.257,"v":14},{"t":2011.312,"v":11},{"t":2011.366,"v":7},{"t":2011.420,"v":1},{"t":2011.474,"v":-3},{"t":2011.528,"v":-7},{"t":2011.583,"v":-4},{"t":2011.637,"v":-5},{"t":2011.691,"v":-1},{"t":2011.745,"v":3},{"t":2011.799,"v":8},{"t":2011.854,"v":11},{"t":2011.908,"v":13},{"t":2011.962,"v":9},{"t":2012.016,"v":6},{"t":2012.070,"v":8},{"t":2012.125,"v":4},{"t":2012.179,"v":2},{"t":2012.233,"v":1},{"t":2012.287,"v":-1},{"t":2012.341,"v":-5},{"t":2012.396,"v":-8},{"t":2012.450,"v":-11},{"t":2012.504,"v":-14},{"t":2012.558,"v":-5},{"t":2012.612,"v":1},{"t":2012.667,"v":4},{"t":2012.721,"v":7},{"t":2012.775,"v":9},{"t":2012.829,"v":1},{"t":2012.883,"v":1},{"t":2012.938,"v":-2},{"t":2012.992,"v":-6},{"t":2013.046,"v":1},{"t":2013.100,"v":4},{"t":2013.155,"v":7},{"t":2013.209,"v":11},{"t":2013.263,"v":14},{"t":2013.317,"v":18},{"t":2013.371,"v":20},{"t":2013.426,"v":15},{"t":2013.480,"v":15},{"t":2013.534,"v":17},{"t":2013.588,"v":23},{"t":2013.632,"v":18},{"t":2013.675,"v":10},{"t":2013.718,"v":4},{"t":2013.762,"v":2},{"t":2013.805,"v":2},{"t":2013.859,"v":2},{"t":2013.913,"v":1},{"t":2013.968,"v":-3},{"t":2014.022,"v":-9},{"t":2014.076,"v":-16},{"t":2014.130,"v":-8},{"t":2014.184,"v":-4},{"t":2014.239,"v":-2},{"t":2014.293,"v":1},{"t":2014.347,"v":4},{"t":2014.401,"v":8},{"t":2014.455,"v":8},{"t":2014.510,"v":10},{"t":2014.564,"v":-3},{"t":2014.596,"v":-14},{"t":2014.650,"v":-7},{"t":2014.705,"v":-4},{"t":2014.781,"v":-3},{"t":2014.835,"v":-13},{"t":2014.889,"v":-18},{"t":2014.943,"v":-3},{"t":2014.997,"v":-3},{"t":2015.052,"v":-13},{"t":2015.106,"v":-9},{"t":2015.160,"v":-13},{"t":2015.214,"v":-10},{"t":2015.268,"v":-19},{"t":2015.323,"v":-10},{"t":2015.377,"v":-8},{"t":2015.431,"v":-5},{"t":2015.485,"v":-13},{"t":2015.539,"v":-13},{"t":2015.594,"v":-13},{"t":2015.648,"v":-10},{"t":2015.702,"v":-6},{"t":2015.756,"v":-12},{"t":2015.810,"v":-11},{"t":2015.864,"v":-11},{"t":2015.919,"v":-4},{"t":2015.973,"v":2},{"t":2016.027,"v":4},{"t":2016.081,"v":3},{"t":2016.136,"v":0},{"t":2016.190,"v":-4},{"t":2016.244,"v":-8},{"t":2016.298,"v":-13},{"t":2016.352,"v":-25},{"t":2016.407,"v":-34},{"t":2016.439,"v":-39},{"t":2016.482,"v":-28},{"t":2016.537,"v":-15},{"t":2016.591,"v":-3},{"t":2016.623,"v":-6},{"t":2016.678,"v":-13},{"t":2016.732,"v":-4},{"t":2016.786,"v":-4},{"t":2016.840,"v":-4},{"t":2016.894,"v":-5},{"t":2016.949,"v":-8},{"t":2017.003,"v":-14},{"t":2017.057,"v":-14},{"t":2017.111,"v":-14},{"t":2017.165,"v":-12},{"t":2017.219,"v":-14},{"t":2017.274,"v":-18},{"t":2017.328,"v":-21},{"t":2017.382,"v":-23},{"t":2017.436,"v":-18},{"t":2017.490,"v":-13},{"t":2017.545,"v":-8},{"t":2017.599,"v":-3},{"t":2017.621,"v":0},{"t":2017.664,"v":-3},{"t":2017.707,"v":-8},{"t":2017.762,"v":-11},{"t":2017.816,"v":-15},{"t":2017.870,"v":-9},{"t":2017.924,"v":-9},{"t":2017.978,"v":-8},{"t":2018.033,"v":-11},{"t":2018.087,"v":-16},{"t":2018.141,"v":-22},{"t":2018.195,"v":-16},{"t":2018.249,"v":-9},{"t":2018.304,"v":1},{"t":2018.358,"v":6},{"t":2018.412,"v":8},{"t":2018.466,"v":6},{"t":2018.520,"v":-3},{"t":2018.575,"v":-12},{"t":2018.607,"v":-16},{"t":2018.651,"v":-13},{"t":2018.705,"v":-9}
     ]},
     "mark": {"type": "line", "color": "#3d2a61", "strokeWidth": 2.4, "strokeJoin": "round"},
     "encoding": {
      "x": {"field": "t", "type": "quantitative", "scale": {"domain": [2000, 2019.05], "range": [34, 619], "nice": false, "zero": false}, "axis": {"values": [2000, 2002, 2004, 2006, 2008, 2010, 2012, 2014, 2016, 2018], "format": "d", "labelOverlap": false, "tickCount": 30}},
      "y": {"field": "v", "type": "quantitative", "scale": {"domain": [-50, 50], "nice": false}, "axis": {"values": [-50, -40, -30, -20, -10, 0, 10, 20, 30, 40, 50], "tickCount": 30, "offset": -34, "labelPadding": 11, "labelOverlap": false, "labelExpr": "replace(datum.label, '−', '-')"}}
     }},
    {"data": {"values": [{}]}, "mark": {"type": "rule", "color": "#222222", "strokeWidth": 1.2},
     "encoding": {"x": {"datum": 2019.0, "type": "quantitative"}, "y": {"datum": 49.5, "type": "quantitative"}, "y2": {"datum": -52.5}}},
    {"data": {"values": [{}]}, "mark": {"type": "point", "shape": "triangle-up", "filled": true, "color": "#222222", "size": 22},
     "encoding": {"x": {"datum": 2019.0, "type": "quantitative"}, "y": {"datum": 49.5, "type": "quantitative"}}},
    {"data": {"values": [{}]}, "mark": {"type": "point", "shape": "triangle-down", "filled": true, "color": "#222222", "size": 22},
     "encoding": {"x": {"datum": 2019.0, "type": "quantitative"}, "y": {"datum": -52.5, "type": "quantitative"}}},
    {"data": {"values": [{}]}, "mark": {"type": "text", "align": "right", "baseline": "middle", "fontSize": 10.5, "fontWeight": "bold", "color": "#222222"},
     "encoding": {"x": {"datum": 2018.7, "type": "quantitative"}, "y": {"datum": 47.4, "type": "quantitative"}, "text": {"value": "rising"}}},
    {"data": {"values": [{}]}, "mark": {"type": "text", "align": "right", "baseline": "middle", "fontSize": 10.5, "fontWeight": "bold", "color": "#222222"},
     "encoding": {"x": {"datum": 2018.75, "type": "quantitative"}, "y": {"datum": -49, "type": "quantitative"}, "text": {"value": "falling"}}}
   ]}
 ], "spacing": 4},
 {"resolve": {"scale": {"color": "independent", "shape": "independent"}},
  "vconcat": [
  {"width": 623, "height": 21, "view": {"fill": "#000000", "stroke": null},
   "title": {"text": "Regional New Vendor Instructions - Past month", "dx": 2},
   "data": {"values": [{"left": "Net balance, %, SA", "center": "Regional Breakdown - New Vendor Instructions - Last Month"}]},
   "layer": [
    {"mark": {"type": "text", "align": "left", "baseline": "middle", "color": "#ffffff", "fontSize": 12, "fontWeight": "bold"},
     "encoding": {"x": {"datum": 0.004, "type": "quantitative", "scale": {"domain": [0, 1]}, "axis": null}, "y": {"datum": 0.5, "type": "quantitative", "scale": {"domain": [0, 1]}, "axis": null}, "text": {"field": "left"}}},
    {"mark": {"type": "text", "align": "center", "baseline": "middle", "color": "#ffffff", "fontSize": 12.5, "fontWeight": "bold"},
     "encoding": {"x": {"datum": 0.538, "type": "quantitative"}, "y": {"datum": 0.5, "type": "quantitative"}, "text": {"field": "center"}}}
   ]},
  {"width": 623, "height": 404,
   "resolve": {"scale": {"x": "independent"}},
   "layer": [
    {"data": {"values": [{}]}, "mark": {"type": "rule", "color": "#777777", "strokeWidth": 1.2},
     "encoding": {"x": {"datum": 0, "type": "quantitative", "scale": {"domain": [0, 1], "range": [30, 614]}, "axis": null}, "x2": {"datum": 1}, "y": {"datum": 0, "type": "quantitative"}}},
    {"data": {"values": [
      {"region": "Eng+W", "Current month": -9.2, "3-month average": -9.4},
      {"region": "Lon", "Current month": -3.7, "3-month average": -5.9},
      {"region": "South E.", "Current month": -20.4, "3-month average": -12.8},
      {"region": "East A.", "Current month": -11.6, "3-month average": -9.0},
      {"region": "Wales", "Current month": -2.9, "3-month average": -23.9},
      {"region": "South W.", "Current month": 6.4, "3-month average": 7.5},
      {"region": "Y&H", "Current month": -23.7, "3-month average": -14.1},
      {"region": "North", "Current month": -7.5, "3-month average": -14.7},
      {"region": "North W.", "Current month": -4.5, "3-month average": -12.0},
      {"region": "West M.", "Current month": -9.2, "3-month average": -11.2},
      {"region": "East M.", "Current month": -9.3, "3-month average": -10.6},
      {"region": "Scot", "Current month": -21.2, "3-month average": -26.3},
      {"region": "NI", "Current month": -12.6, "3-month average": -10.4}
     ]},
     "transform": [{"fold": ["Current month", "3-month average"], "as": ["series", "value"]}],
     "layer": [
      {"transform": [{"filter": "datum.series === 'Current month'"}],
       "mark": {"type": "bar"},
       "encoding": {
        "x": {"field": "region", "type": "nominal", "sort": null, "scale": {"range": [30, 614], "paddingInner": 0.55, "paddingOuter": 0.26}, "axis": {"labelFontSize": 10, "labelPadding": 9, "labelOverlap": false}},
        "y": {"field": "value", "type": "quantitative", "scale": {"domain": [-30, 10], "nice": false}, "axis": {"values": [-30, -25, -20, -15, -10, -5, 0, 5, 10], "tickCount": 30, "offset": -30, "labelPadding": 11, "labelOverlap": false, "labelExpr": "replace(datum.label, '−', '-')"}},
        "color": {"field": "series", "type": "nominal", "scale": {"domain": ["Current month", "3-month average"], "range": ["#41295f", "#17a9a1"]}, "legend": {"orient": "none", "legendX": 263, "legendY": 353, "title": null, "rowPadding": 17}}
       }},
      {"transform": [{"filter": "datum.series === '3-month average'"}],
       "mark": {"type": "point", "filled": true, "size": 70},
       "encoding": {
        "x": {"field": "region", "type": "nominal", "sort": null},
        "y": {"field": "value", "type": "quantitative"},
        "color": {"field": "series", "type": "nominal"},
        "shape": {"field": "series", "type": "nominal", "scale": {"domain": ["Current month", "3-month average"], "range": ["square", "diamond"]}, "legend": {"orient": "none", "legendX": 263, "legendY": 353, "title": null, "rowPadding": 17}}
       }}
     ]}
   ]}
 ], "spacing": 4}
], "spacing": 46}
]
}
